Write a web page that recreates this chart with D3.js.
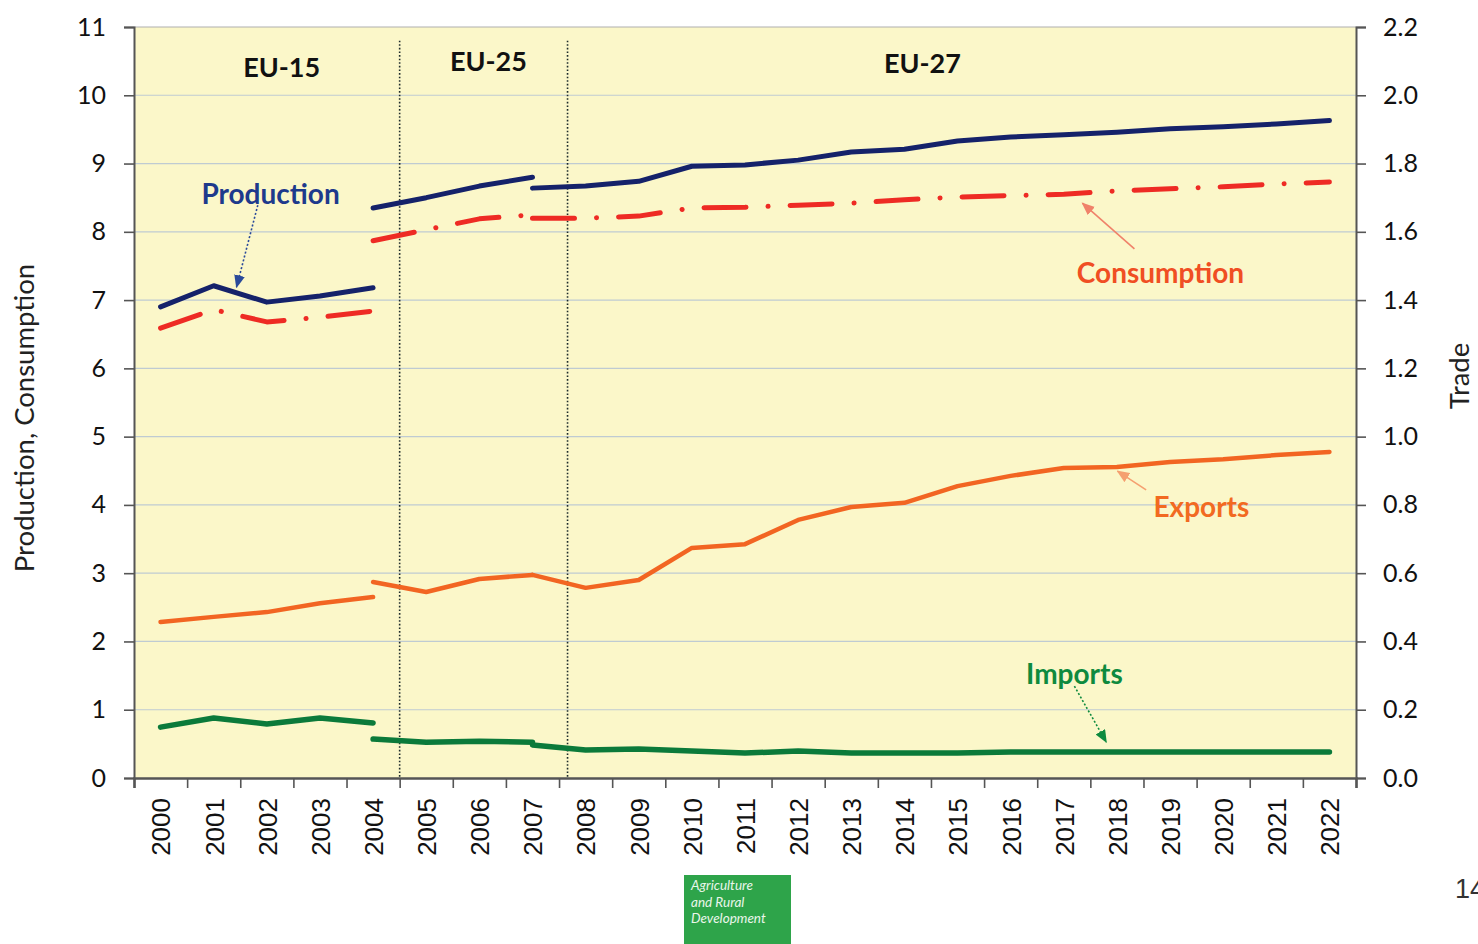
<!DOCTYPE html>
<html>
<head>
<meta charset="utf-8">
<script src="https://cdn.jsdelivr.net/npm/d3@7"></script>
<style>
  body { margin: 0; background: #fff; }
  svg { display: block; }
</style>
</head>
<body>
<div id="chart"></div>
<script>
// Years (categories), one array per membership period
const yearsEU15 = [2000, 2001, 2002, 2003, 2004];
const yearsEU25 = [2004, 2005, 2006, 2007];
const yearsEU27 = [2007, 2008, 2009, 2010, 2011, 2012, 2013, 2014, 2015, 2016, 2017, 2018, 2019, 2020, 2021, 2022];
const allYears = [2000, 2001, 2002, 2003, 2004, 2005, 2006, 2007, 2008, 2009, 2010, 2011,
                  2012, 2013, 2014, 2015, 2016, 2017, 2018, 2019, 2020, 2021, 2022];

// Production and consumption (left axis)
const productionEU15 = [6.90, 7.21, 6.97, 7.06, 7.18];
const productionEU25 = [8.35, 8.50, 8.67, 8.80];
const productionEU27 = [8.64, 8.67, 8.74, 8.96, 8.98, 9.05, 9.17, 9.21, 9.33, 9.39, 9.42, 9.46, 9.51, 9.54, 9.58, 9.63];
const consumptionEU15 = [6.59, 6.86, 6.68, 6.75, 6.84];
const consumptionEU25 = [7.87, 8.03, 8.19, 8.25];
const consumptionEU27 = [8.20, 8.20, 8.23, 8.35, 8.36, 8.39, 8.42, 8.47, 8.51, 8.53, 8.55, 8.60, 8.63, 8.66, 8.70, 8.73];

// Trade (right axis)
const exportsEU15 = [0.457, 0.472, 0.486, 0.512, 0.530];
const exportsEU25 = [0.574, 0.545, 0.583, 0.595];
const exportsEU27 = [0.595, 0.557, 0.580, 0.674, 0.685, 0.756, 0.794, 0.806, 0.855, 0.885, 0.908, 0.911, 0.926, 0.934, 0.946, 0.955];
const importsEU15 = [0.149, 0.176, 0.158, 0.176, 0.161];
const importsEU25 = [0.114, 0.105, 0.108, 0.105];
const importsEU27 = [0.097, 0.082, 0.085, 0.079, 0.073, 0.079, 0.073, 0.073, 0.073, 0.076, 0.076, 0.076, 0.076, 0.076, 0.076, 0.076];

// Axis ticks
const leftTicks = [0, 1, 2, 3, 4, 5, 6, 7, 8, 9, 10, 11];
const rightTicks = [0, 0.2, 0.4, 0.6, 0.8, 1.0, 1.2, 1.4, 1.6, 1.8, 2.0, 2.2];

// Period separators (fractional year positions) and period labels
const separators = [2004.5, 2007.66];
const periodLabels = [
    {text: "EU-15", year: 2002.28, value: 10.40},
    {text: "EU-25", year: 2006.17, value: 10.49},
    {text: "EU-27", year: 2014.34, value: 10.46}
];

// Set up SVG dimensions
const W = 1478, H = 944;
const margin = {top: 27, right: 122, bottom: 166, left: 134};
const width = W - margin.left - margin.right;
const height = H - margin.top - margin.bottom;

const svg = d3.select("#chart")
              .append("svg")
              .attr("width", W)
              .attr("height", H);

const defs = svg.append("defs");
function arrowMarker(id, color) {
    defs.append("marker")
        .attr("id", id)
        .attr("viewBox", "0 0 12 10")
        .attr("refX", 11).attr("refY", 5)
        .attr("markerWidth", 13).attr("markerHeight", 11)
        .attr("markerUnits", "userSpaceOnUse")
        .attr("orient", "auto")
        .append("path")
        .attr("d", "M0,0 L12,5 L0,10 Z")
        .attr("fill", color);
}

const g = svg.append("g").attr("transform", `translate(${margin.left},${margin.top})`);

// Scales
const xScale = d3.scaleLinear().domain([1999.5, 2022.5]).range([0, width]);
const yLeft = d3.scaleLinear().domain([0, 11]).range([height, 0]);
const yRight = d3.scaleLinear().domain([0, 2.2]).range([height, 0]);

// Plot background
g.append("rect")
 .attr("width", width).attr("height", height)
 .attr("fill", "#fbf7c9");

// Gridlines
g.append("g")
 .selectAll("line")
 .data(leftTicks.slice(1))
 .enter().append("line")
 .attr("x1", 0).attr("x2", width)
 .attr("y1", d => yLeft(d)).attr("y2", d => yLeft(d))
 .attr("stroke", d => d === 11 ? "#b0b0b0" : "#bfcbd2")
 .attr("stroke-width", 1.2);

// Period separators
g.append("g")
 .selectAll("line")
 .data(separators)
 .enter().append("line")
 .attr("x1", d => xScale(d)).attr("x2", d => xScale(d))
 .attr("y1", yLeft(10.8)).attr("y2", height)
 .attr("stroke", "#1d2b2b")
 .attr("stroke-width", 1.6)
 .attr("stroke-dasharray", "1.6,2");

// Axes
const fontNum = "Lato, 'Open Sans', sans-serif";

const leftAxis = g.append("g")
 .call(d3.axisLeft(yLeft).tickValues(leftTicks).tickSize(10).tickPadding(18).tickFormat(d3.format("d")));
const rightAxis = g.append("g")
 .attr("transform", `translate(${width},0)`)
 .call(d3.axisRight(yRight).tickValues(rightTicks).tickSize(10).tickPadding(17).tickFormat(d3.format(".1f")));
[leftAxis, rightAxis].forEach(a => {
    a.select(".domain").attr("stroke", "#555").attr("stroke-width", 2);
    a.selectAll(".tick line").attr("stroke", "#555").attr("stroke-width", 1.6);
    a.selectAll(".tick text").style("font-family", fontNum).style("font-size", "25px").attr("fill", "#111");
});

// x axis: tick marks on category boundaries, labels on category centres
const xTickAxis = g.append("g")
 .attr("transform", `translate(0,${height})`)
 .call(d3.axisBottom(xScale).tickValues(allYears.map(y => y - 0.5).concat([2022.5])).tickSize(10).tickFormat(""));
xTickAxis.select(".domain").attr("stroke", "#555").attr("stroke-width", 2.5);
xTickAxis.selectAll(".tick line").attr("stroke", "#555").attr("stroke-width", 1.6);

const xLabelAxis = g.append("g")
 .attr("transform", `translate(0,${height})`)
 .call(d3.axisBottom(xScale).tickValues(allYears).tickSize(0).tickFormat(d3.format("d")));
xLabelAxis.select(".domain").remove();
xLabelAxis.selectAll(".tick text")
 .attr("transform", "rotate(-90)")
 .attr("text-anchor", "end")
 .attr("x", -20)
 .attr("y", 0)
 .attr("dy", "0.36em")
 .style("font-family", "'Liberation Sans', Arial, sans-serif")
 .style("font-size", "26px")
 .attr("fill", "#111");

// Axis titles
svg.append("text")
 .attr("transform", `translate(34,418) rotate(-90)`)
 .attr("text-anchor", "middle")
 .style("font-family", fontNum).style("font-size", "27.5px")
 .attr("fill", "#222")
 .text("Production, Consumption");
svg.append("text")
 .attr("transform", `translate(1469,376) rotate(-90)`)
 .attr("text-anchor", "middle")
 .style("font-family", fontNum).style("font-size", "27.5px")
 .attr("fill", "#222")
 .text("Trade");

// Series segments
const series = [
    {name: "Exports", y: yRight, color: "#f26522", width: 4.5, dash: null,
     segs: [[yearsEU15, exportsEU15], [yearsEU25, exportsEU25], [yearsEU27, exportsEU27]]},
    {name: "Imports", y: yRight, color: "#0b7a3a", width: 5.5, dash: null,
     segs: [[yearsEU15, importsEU15], [yearsEU25, importsEU25], [yearsEU27, importsEU27]]},
    {name: "Consumption", y: yLeft, color: "#ee2b24", width: 5, dash: "42,22,0.1,22",
     segs: [[yearsEU15, consumptionEU15], [yearsEU25, consumptionEU25], [yearsEU27, consumptionEU27]]},
    {name: "Production", y: yLeft, color: "#15226a", width: 5, dash: null,
     segs: [[yearsEU15, productionEU15], [yearsEU25, productionEU25], [yearsEU27, productionEU27]]}
];

series.forEach(s => {
    const line = d3.line().x(d => xScale(d[0])).y(d => s.y(d[1]));
    s.segs.forEach(([ys, vs]) => {
        g.append("path")
         .datum(ys.map((yr, i) => [yr, vs[i]]))
         .attr("fill", "none")
         .attr("stroke", s.color)
         .attr("stroke-width", s.width)
         .attr("stroke-linecap", "round")
         .attr("stroke-linejoin", "round")
         .attr("stroke-dasharray", s.dash)
         .attr("d", line);
    });
});

// Period labels
g.selectAll(".period")
 .data(periodLabels)
 .enter().append("text")
 .attr("x", d => xScale(d.year))
 .attr("y", d => yLeft(d.value))
 .attr("dy", "0.35em")
 .attr("text-anchor", "middle")
 .style("font-family", fontNum).style("font-size", "27px").style("font-weight", "bold")
 .attr("fill", "#111")
 .text(d => d.text);

// Series annotations with arrows
const annotations = [
    {text: "Production", color: "#1e3a8c", arrow: "#2a4a9a", dotted: true, y: yLeft,
     label: [2002.07, 8.55], from: [2001.83, 8.39], to: [2001.43, 7.19]},
    {text: "Consumption", color: "#f04e23", arrow: "#f0826a", dotted: false, y: yLeft,
     label: [2018.82, 7.40], from: [2018.33, 7.75], to: [2017.35, 8.42]},
    {text: "Exports", color: "#f26a21", arrow: "#f5a070", dotted: false, y: yRight,
     label: [2019.59, 0.794], from: [2018.55, 0.844], to: [2018.01, 0.899]},
    {text: "Imports", color: "#0e8a3e", arrow: "#0e8a3e", dotted: true, y: yRight,
     label: [2017.2, 0.305], from: [2017.2, 0.269], to: [2017.8, 0.105]}
];

annotations.forEach((a, i) => {
    arrowMarker("arr" + i, a.arrow);
    g.append("line")
     .attr("x1", xScale(a.from[0])).attr("y1", a.y(a.from[1]))
     .attr("x2", xScale(a.to[0])).attr("y2", a.y(a.to[1]))
     .attr("stroke", a.arrow)
     .attr("stroke-width", 1.6)
     .attr("stroke-dasharray", a.dotted ? "2,2" : null)
     .attr("marker-end", `url(#arr${i})`);
    g.append("text")
     .attr("x", xScale(a.label[0]))
     .attr("y", a.y(a.label[1]))
     .attr("dy", "0.35em")
     .attr("text-anchor", "middle")
     .style("font-family", fontNum).style("font-size", "28px").style("font-weight", "bold")
     .attr("fill", a.color)
     .text(a.text);
});

// Footer badge and page number
const badge = svg.append("g").attr("transform", "translate(684,875)");
badge.append("rect").attr("width", 107).attr("height", 69).attr("fill", "#2ea44a");
badge.selectAll("text")
 .data(["Agriculture", "and Rural", "Development"])
 .enter().append("text")
 .attr("x", 7)
 .attr("y", (d, i) => 15 + i * 16.5)
 .style("font-family", fontNum).style("font-size", "13.5px").style("font-style", "italic")
 .attr("fill", "#eaf6ea")
 .text(d => d);

svg.append("text")
 .attr("x", 1455).attr("y", 898)
 .style("font-family", "'Liberation Sans', Arial, sans-serif").style("font-size", "27px")
 .attr("fill", "#333")
 .text("14");
</script>
</body>
</html>
